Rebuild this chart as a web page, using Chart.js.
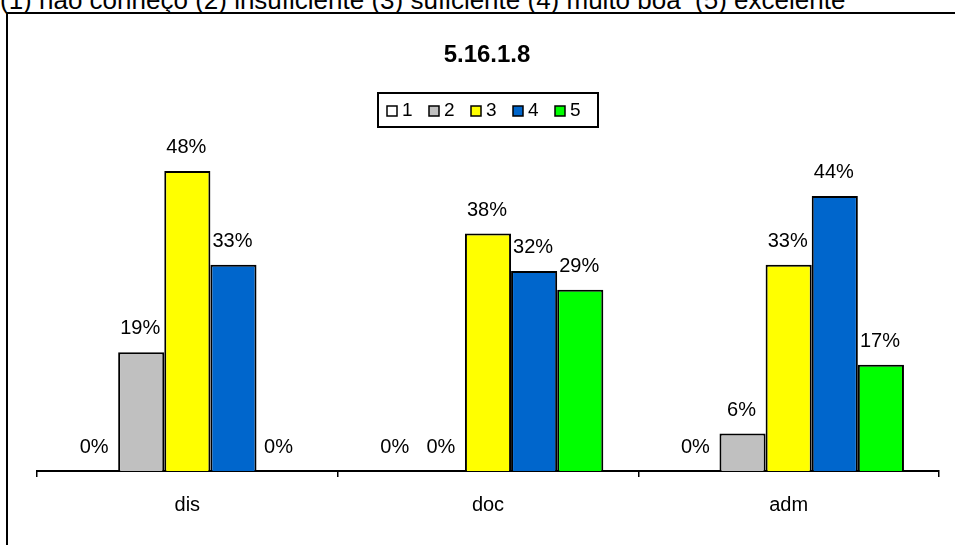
<!DOCTYPE html>
<html>
<head>
<meta charset="utf-8">
<script src="https://cdn.jsdelivr.net/npm/chart.js@4"></script>
<style>
  html, body { margin: 0; padding: 0; background: #fff; overflow: hidden; }
  #topo { position: absolute; left: 0; top: -13px; font: 26px "Liberation Sans", Arial, sans-serif; line-height: 1; white-space: pre; color: #000; }
  #moldura { position: absolute; left: 6px; top: 12px; width: 1000px; height: 600px; border: 2px solid #000; }
  #grafico { position: absolute; left: 0; top: 0; }
</style>
</head>
<body>
<div id="topo">(1) não conheço (2) insuficiente (3) suficiente (4) muito boa  (5) excelente</div>
<div id="moldura"></div>
<canvas id="grafico" width="955" height="545"></canvas>
<script>
const categorias = ["dis", "doc", "adm"];
const niveis = ["1", "2", "3", "4", "5"];
const cores = ["#FFFFFF", "#C0C0C0", "#FFFF00", "#0066CC", "#00FF00"];

// percentagens por nível (1..5), uma entrada por categoria
const nivel1 = [0, 0, 0];
const nivel2 = [19, 0, 6];
const nivel3 = [48, 38, 33];
const nivel4 = [33, 32, 44];
const nivel5 = [0, 29, 17];

const titulo = "5.16.1.8";
const fonte = '"Liberation Sans", Arial, sans-serif';

const valores = [nivel1, nivel2, nivel3, nivel4, nivel5];

// rótulos de percentagem por cima das barras
const rotulos = {
  id: "rotulos",
  afterDatasetsDraw(chart) {
    const ctx = chart.ctx;
    ctx.save();
    ctx.font = "20px " + fonte;
    ctx.fillStyle = "#000";
    ctx.textAlign = "center";
    ctx.textBaseline = "alphabetic";
    chart.data.datasets.forEach((ds, i) => {
      chart.getDatasetMeta(i).data.forEach((bar, j) => {
        ctx.fillText(ds.data[j] + "%", bar.x - 1, bar.y - 18);
      });
    });
    ctx.restore();
  }
};

// título e legenda com caixa
const cabecalho = {
  id: "cabecalho",
  afterDraw(chart) {
    const ctx = chart.ctx;
    ctx.save();
    ctx.fillStyle = "#000";
    ctx.textAlign = "center";
    ctx.textBaseline = "middle";
    ctx.font = "bold 24px " + fonte;
    ctx.fillText(titulo, 487, 55);

    ctx.lineWidth = 2;
    ctx.strokeStyle = "#000";
    ctx.strokeRect(378, 93, 220, 34);

    ctx.font = "19px " + fonte;
    ctx.textAlign = "left";
    chart.data.datasets.forEach((ds, i) => {
      const x = 387 + i * 42;
      ctx.fillStyle = ds.backgroundColor;
      ctx.fillRect(x, 106, 10, 10);
      ctx.lineWidth = 1.5;
      ctx.strokeRect(x, 106, 10, 10);
      ctx.fillStyle = "#000";
      ctx.fillText(ds.label, x + 15, 111);
    });
    ctx.restore();
  }
};

new Chart(document.getElementById("grafico"), {
  type: "bar",
  data: {
    labels: categorias,
    datasets: niveis.map((n, i) => ({
      label: n,
      data: valores[i],
      backgroundColor: cores[i],
      borderColor: "#000",
      borderWidth: 2,
      borderSkipped: "bottom",
      categoryPercentage: 0.767,
      barPercentage: 1
    }))
  },
  options: {
    responsive: false,
    animation: false,
    layout: { padding: { top: 96, left: 37, right: 16, bottom: 0 } },
    plugins: {
      legend: { display: false },
      title: { display: false },
      tooltip: { enabled: false }
    },
    scales: {
      y: { display: false, min: 0, max: 60 },
      x: {
        afterFit(scale) { scale.height = 74; },
        grid: { display: true, drawOnChartArea: false, drawTicks: true, tickLength: 6, color: "#000", lineWidth: 1.5 },
        border: { display: true, color: "#000", width: 2 },
        ticks: { color: "#000", font: { family: fonte, size: 20 }, padding: 16 }
      }
    }
  },
  plugins: [rotulos, cabecalho]
});
</script>
</body>
</html>
